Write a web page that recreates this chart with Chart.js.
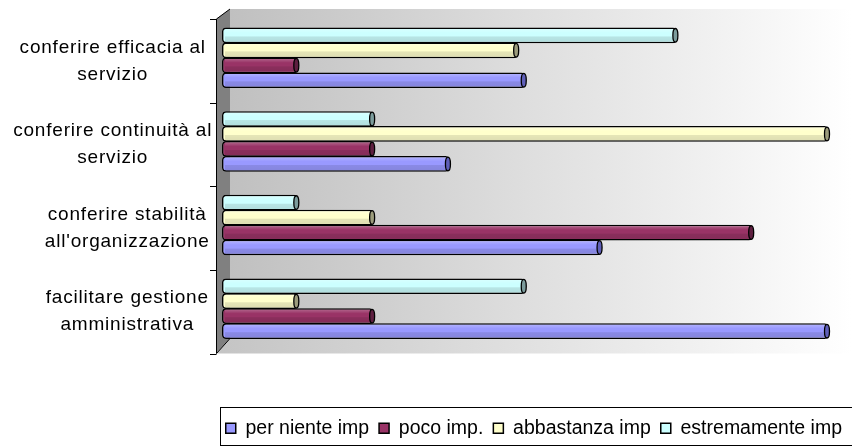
<!DOCTYPE html>
<html>
<head>
<meta charset="utf-8">
<script src="https://cdn.jsdelivr.net/npm/chart.js@4.4.1/dist/chart.umd.min.js"></script>
<style>
html, body { margin: 0; padding: 0; background: #fff; }
</style>
</head>
<body>
<canvas id="chart" width="852" height="447"></canvas>
<script>
// categories, top to bottom as drawn
var categories = [
    ['conferire efficacia al', 'servizio'],
    ['conferire continuità al', 'servizio'],
    ['conferire stabilità', "all'organizzazione"],
    ['facilitare gestione', 'amministrativa']
];
var seriesNames = ['per niente imp', 'poco imp.', 'abbastanza imp', 'estremamente imp'];
var perNiente    = [4, 3, 5, 8];
var poco         = [1, 2, 7, 2];
var abbastanza   = [3.9, 8, 2, 1];
var estremamente = [6, 2, 1, 4];

var colors    = ['#9999ff', '#993366', '#ffffcc', '#ccffff'];
var capColors = ['#5f5fb8', '#5e1f40', '#9c9c7c', '#7c9c9c'];

var values = [perNiente, poco, abbastanza, estremamente];

// last series sits on top of each group, so feed them in reverse
var datasets = [3, 2, 1, 0].map(function(i) {
    return {
        label: seriesNames[i],
        data: values[i],
        backgroundColor: colors[i],
        borderColor: '#000',
        borderWidth: 1.5,
        borderSkipped: false,
        borderRadius: 4,
        barPercentage: 1.05,
        categoryPercentage: 0.716,
        capColor: capColors[i]
    };
});

Chart.defaults.font.family = '"Liberation Sans", Arial, sans-serif';
Chart.defaults.color = '#000';

function noPad(s) {
    s.paddingTop = 0;
    s.paddingBottom = 0;
}

// back wall, side wall, floor and the category axis with its ticks
var walls = {
    id: 'walls',
    beforeDraw: function(chart) {
        var a = chart.chartArea, ctx = chart.ctx;
        var fx = a.left - 6, bx = a.left + 8;
        var fTop = a.top + 3, fBot = a.bottom + 3;
        var bTop = a.top - 7, bBot = a.bottom - 12;
        ctx.save();
        var g = ctx.createLinearGradient(bx, 0, chart.width, 0);
        g.addColorStop(0, '#c0c0c0');
        g.addColorStop(1, '#ffffff');
        ctx.fillStyle = g;
        ctx.fillRect(bx, bTop, chart.width - bx, bBot - bTop);

        var gf = ctx.createLinearGradient(fx, 0, chart.width, 0);
        gf.addColorStop(0, '#c4c4c4');
        gf.addColorStop(1, '#ffffff');
        ctx.fillStyle = gf;
        ctx.beginPath();
        ctx.moveTo(fx, fBot);
        ctx.lineTo(bx, bBot);
        ctx.lineTo(chart.width, bBot);
        ctx.lineTo(chart.width, fBot);
        ctx.closePath();
        ctx.fill();

        ctx.beginPath();
        ctx.moveTo(fx, fTop);
        ctx.lineTo(bx, bTop);
        ctx.lineTo(bx, bBot);
        ctx.lineTo(fx, fBot);
        ctx.closePath();
        ctx.fillStyle = '#808080';
        ctx.fill();

        ctx.strokeStyle = '#000';
        ctx.lineWidth = 1;
        ctx.beginPath();
        ctx.moveTo(bx, bBot);
        ctx.lineTo(fx + 0.5, fBot);
        ctx.lineTo(fx + 0.5, fTop);
        ctx.lineTo(bx, bTop);
        ctx.stroke();

        var n = chart.data.labels.length, step = (a.bottom - a.top) / n;
        ctx.beginPath();
        for (var i = 0; i <= n; i++) {
            var y = Math.round(fTop + i * step) + 0.5;
            ctx.moveTo(fx - 6, y);
            ctx.lineTo(fx + 0.5, y);
        }
        ctx.stroke();
        ctx.restore();
    },
    afterLayout: function(chart) {
        ['y', 'y2'].forEach(function(id) {
            var s = chart.scales[id];
            if (!s || s._spaced) return;
            var draw = s.drawLabels;
            s.drawLabels = function(area) {
                this.ctx.save();
                this.ctx.letterSpacing = '0.8px';
                draw.call(this, area);
                this.ctx.restore();
            };
            s._spaced = true;
        });
    },
    afterDatasetsDraw: function(chart) {
        var ctx = chart.ctx;
        ctx.save();
        chart.data.datasets.forEach(function(ds, di) {
            chart.getDatasetMeta(di).data.forEach(function(bar) {
                var p = bar.getProps(['x', 'y', 'base', 'height'], true);
                var top = p.y - p.height / 2 + 1.5, h = p.height - 3;
                var g = ctx.createLinearGradient(0, top, 0, top + h);
                g.addColorStop(0, 'rgba(255,255,255,0.22)');
                g.addColorStop(0.3, 'rgba(255,255,255,0)');
                g.addColorStop(0.55, 'rgba(0,0,0,0)');
                g.addColorStop(0.62, 'rgba(0,0,0,0.1)');
                g.addColorStop(1, 'rgba(0,0,0,0.13)');
                ctx.fillStyle = g;
                ctx.fillRect(p.base + 3, top, p.x - p.base - 6, h);
                ctx.beginPath();
                ctx.ellipse(p.x - 1.5, p.y, 2.5, p.height / 2 - 1, 0, 0, 2 * Math.PI);
                ctx.fillStyle = ds.capColor;
                ctx.fill();
                ctx.lineWidth = 1.3;
                ctx.strokeStyle = '#000';
                ctx.stroke();
            });
        });
        ctx.restore();
    },
    afterDraw: function(chart) {
        var ctx = chart.ctx, l = chart.legend;
        ctx.save();
        ctx.strokeStyle = '#000';
        ctx.lineWidth = 1;
        ctx.strokeRect(chart.chartArea.left - 1.5, Math.round(l.top - 2) + 0.5, chart.width, 38);
        ctx.restore();
    }
};

var chart = new Chart(document.getElementById('chart'), {
    type: 'bar',
    data: {
        labels: categories,
        datasets: datasets
    },
    options: {
        indexAxis: 'y',
        responsive: false,
        animation: false,
        layout: { padding: { top: 16, right: 0, bottom: -1, left: 0 } },
        scales: {
            x: {
                min: 0,
                max: 8.31,
                ticks: { display: false },
                grid: { display: false },
                border: { display: false },
                afterFit: function(s) { s.height = 58; }
            },
            y: {
                position: 'left',
                weight: 1,
                offset: true,
                grid: { display: false, drawTicks: false },
                border: { display: false },
                ticks: {
                    crossAlign: 'center',
                    padding: 19,
                    labelOffset: 3,
                    autoSkip: false,
                    font: { size: 19, lineHeight: 1.42 },
                    callback: function(v, i) { return i < 2 ? this.getLabelForValue(v) : ''; }
                },
                afterFit: function(s) { s.width = 222; noPad(s); }
            },
            y2: {
                type: 'category',
                position: 'left',
                weight: 2,
                offset: true,
                grid: { display: false, drawTicks: false },
                border: { display: false },
                ticks: {
                    mirror: true,
                    crossAlign: 'center',
                    padding: 52,
                    labelOffset: 3,
                    autoSkip: false,
                    font: { size: 19, lineHeight: 1.42 },
                    callback: function(v, i) { return i >= 2 ? this.getLabelForValue(v) : ''; }
                },
                afterFit: function(s) { s.width = 0; noPad(s); }
            }
        },
        plugins: {
            legend: {
                position: 'bottom',
                align: 'end',
                reverse: true,
                labels: {
                    boxWidth: 10,
                    boxHeight: 10,
                    padding: 10,
                    color: '#000',
                    font: { size: 19.5 }
                }
            },
            tooltip: { enabled: false }
        }
    },
    plugins: [walls]
});
</script>
</body>
</html>
